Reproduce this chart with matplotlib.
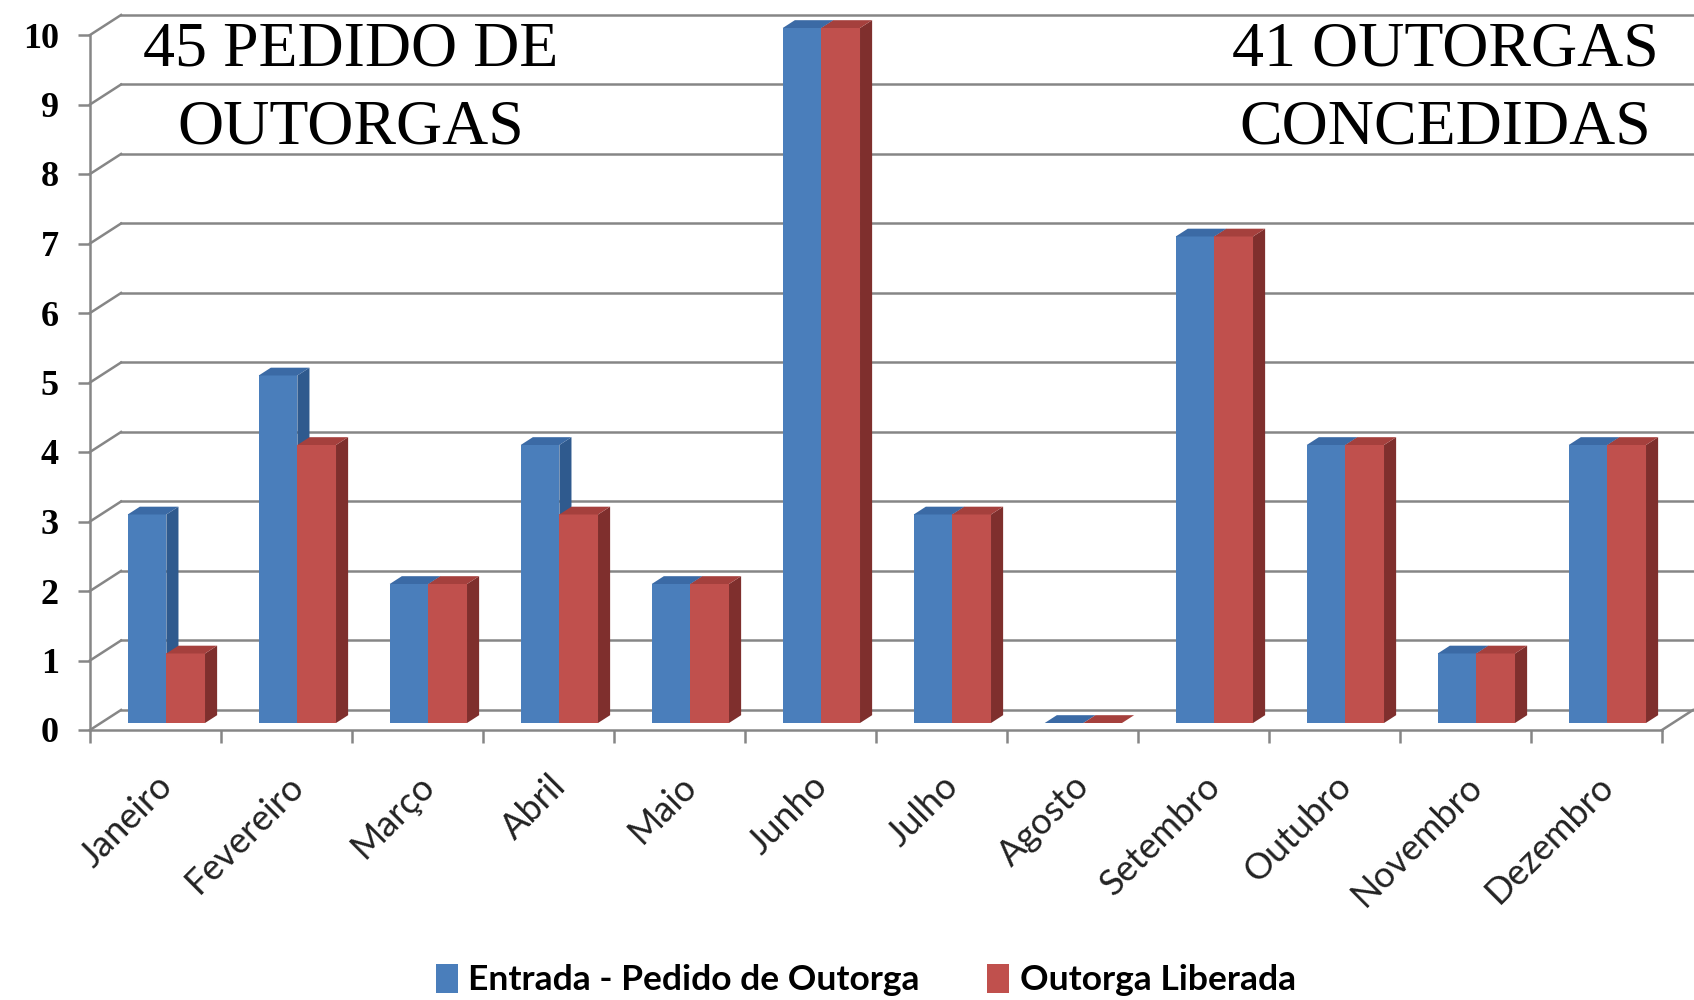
import numpy as np
import matplotlib.pyplot as plt
from matplotlib.patches import Polygon, Patch

# dados do grafico
meses = ['Janeiro', 'Fevereiro', 'Março', 'Abril', 'Maio', 'Junho',
         'Julho', 'Agosto', 'Setembro', 'Outubro', 'Novembro', 'Dezembro']
entrada = [3, 5, 2, 4, 2, 10, 3, 0, 7, 4, 1, 4]
liberada = [1, 4, 2, 3, 2, 10, 3, 0, 7, 4, 1, 4]
nomes_series = ['Entrada - Pedido de Outorga', 'Outorga Liberada']
yticks = list(range(11))
texto_esq = ['45 PEDIDO DE', 'OUTORGAS']
texto_dir = ['41 OUTORGAS', 'CONCEDIDAS']

# cores estilo Excel 2007 (frente, lateral, topo)
cores = [('#4a7ebb', '#2f5a8e', '#3b6aa5'), ('#c0504d', '#7f2f2d', '#a5403d')]
grid_cor = '#868686'

fig = plt.figure(figsize=(16.94, 10), dpi=100)
ax = fig.add_axes([90 / 1694, 0.27, 1572 / 1694, 0.695])
n = len(meses)
ax.set_xlim(0, n)
ax.set_ylim(0, 10)

DX, DY = 0.237, 0.288   # profundidade do "piso" em unidades de dados
f0, f1 = 0.35, 0.74     # parte da profundidade ocupada pelas colunas
largura = 0.295
ddx, ddy = (f1 - f0) * DX, (f1 - f0) * DY

# parede do fundo e parede lateral
for k in yticks:
    ax.plot([DX, n + DX], [k + DY] * 2, color=grid_cor, lw=1.8, clip_on=False, zorder=1)
    ax.plot([0, DX], [k, k + DY], color=grid_cor, lw=1.8, clip_on=False, zorder=1)
ax.plot([n, n + DX], [0, DY], color=grid_cor, lw=1.8, clip_on=False, zorder=1)

# colunas 3D
centros = np.arange(n) + 0.5
base = f0 * DY
for j, (vals, (cf, cl, ct)) in enumerate(zip([entrada, liberada], cores)):
    x0 = centros - largura + j * largura + f0 * DX
    ax.bar(x0, vals, width=largura, bottom=base, align='edge', color=cf,
           linewidth=0, zorder=3 + j, clip_on=False)
    for xe, h in zip(x0, vals):
        x1 = xe + largura
        topo = base + h
        lado = Polygon([(x1, base), (x1 + ddx, base + ddy), (x1 + ddx, topo + ddy), (x1, topo)],
                       closed=True, facecolor=cl, edgecolor='none', zorder=3 + j, clip_on=False)
        cima = Polygon([(xe, topo), (x1, topo), (x1 + ddx, topo + ddy), (xe + ddx, topo + ddy)],
                       closed=True, facecolor=ct, edgecolor='none', zorder=3 + j, clip_on=False)
        ax.add_patch(lado)
        ax.add_patch(cima)

# eixos
for s in ['top', 'right']:
    ax.spines[s].set_visible(False)
for s in ['left', 'bottom']:
    ax.spines[s].set_color(grid_cor)
    ax.spines[s].set_linewidth(1.8)
ax.set_xticks(range(n + 1))
ax.set_xticklabels([])
ax.tick_params(axis='x', length=9.5, width=1.8, color=grid_cor)
ax.set_yticks(yticks)
ax.set_yticklabels([str(v) for v in yticks], fontfamily='Liberation Serif',
                   fontweight='bold', fontsize=26)
ax.tick_params(axis='y', length=8.5, width=1.8, color=grid_cor, pad=14)

for i, m in enumerate(meses):
    ax.text(i + 0.5, -0.056, m, rotation=45, ha='right', va='top', rotation_mode='anchor',
            transform=ax.get_xaxis_transform(), fontsize=26, fontfamily='Lato',
            color='#222222')

# textos grandes
fig.text(351 / 1694, 0.935, texto_esq[0], ha='center', va='baseline',
         fontfamily='Liberation Serif', fontsize=46)
fig.text(351 / 1694, 0.857, texto_esq[1], ha='center', va='baseline',
         fontfamily='Liberation Serif', fontsize=46)
fig.text(1445 / 1694, 0.935, texto_dir[0], ha='center', va='baseline',
         fontfamily='Liberation Serif', fontsize=46)
fig.text(1445 / 1694, 0.857, texto_dir[1], ha='center', va='baseline',
         fontfamily='Liberation Serif', fontsize=46)

# legenda
handles = [Patch(facecolor=c[0], edgecolor='none') for c in cores]
fig.legend(handles, nomes_series, loc='center', bbox_to_anchor=(0.511, 0.02), ncol=2,
           frameon=False, handlelength=0.62, handleheight=0.9, handletextpad=0.3,
           columnspacing=1.9,
           prop={'family': 'Lato', 'weight': 'bold', 'size': 25.5})

fig.savefig('out.png', dpi=100)
